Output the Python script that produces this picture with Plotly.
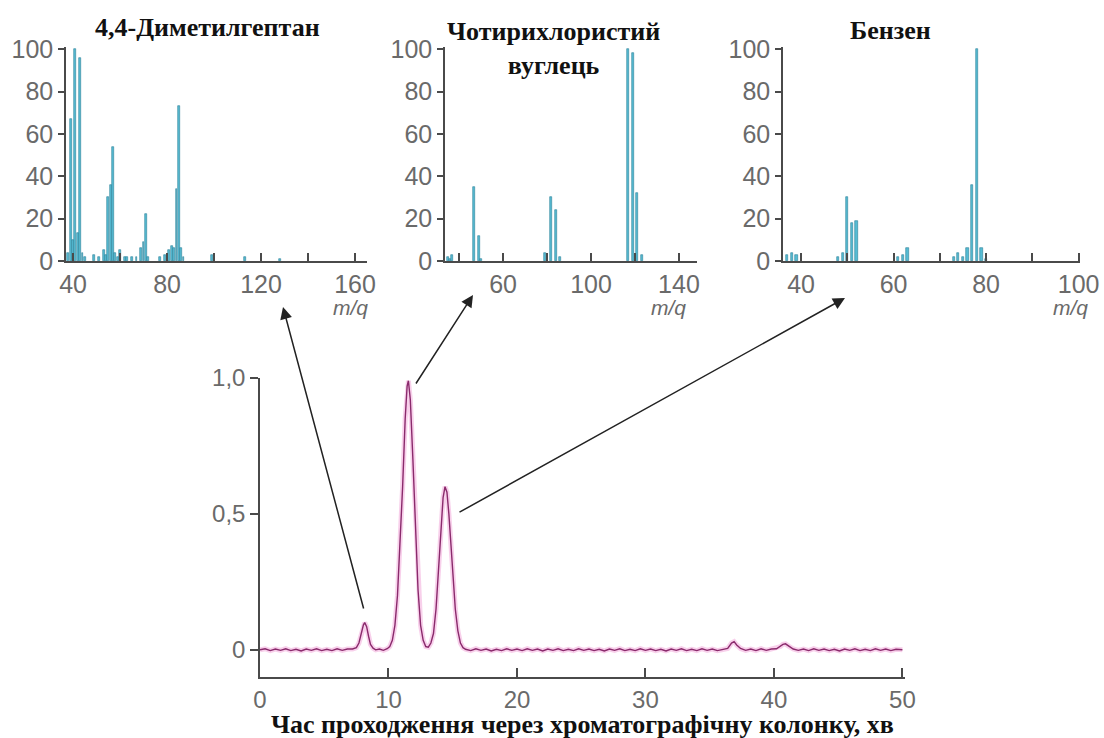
import plotly.graph_objects as go

# ---------------- data ----------------
# Mass spectrum: 4,4-dimethylheptane
mz_dmh = [38, 39, 40, 41, 42, 43, 44, 45, 49, 51, 53, 54, 55, 56, 57, 58, 59, 60, 62, 63, 65, 67,
          69, 70, 71, 72, 77, 79, 81, 82, 83, 84, 85, 86, 87, 99, 113, 128]
int_dmh = [4, 67, 10, 100, 13, 96, 4, 2, 3, 2, 5, 3, 30, 36, 54, 4, 2, 5, 2, 2, 2, 2,
           6, 9, 22, 2, 2, 3, 5, 7, 6, 34, 73, 6, 2, 3, 2, 1]

# Mass spectrum: carbon tetrachloride
mz_ccl4 = [35, 36, 37, 47, 49, 50, 79, 82, 84, 86, 117, 119, 121, 123]
int_ccl4 = [2, 1, 3, 35, 12, 1, 4, 30, 24, 2, 100, 98, 32, 3]

# Mass spectrum: benzene
mz_benz = [37, 38, 39, 48, 49, 50, 51, 52, 61, 62, 63, 73, 74, 75, 76, 77, 78, 79, 80]
int_benz = [3, 4, 3, 2, 4, 30, 18, 19, 2, 3, 6, 2, 4, 2, 6, 36, 100, 6, 1]

# Chromatogram (time, min ; signal)
chrom_time = [0, 0.4, 0.8, 1.2, 1.6, 2.0, 2.4, 2.8, 3.2, 3.6, 4.0, 4.4, 4.8, 5.2, 5.6, 6.0, 6.4, 6.8,
              7.2, 7.5, 7.7, 7.9, 8.05, 8.15, 8.3, 8.45, 8.6, 8.8, 9.0, 9.3, 9.6, 9.9,
              10.1, 10.3, 10.5, 10.7, 10.9, 11.1, 11.3, 11.45, 11.55, 11.7, 11.9, 12.1, 12.3, 12.5,
              12.7, 12.9, 13.1, 13.3, 13.5, 13.7, 13.9, 14.1, 14.25, 14.4, 14.55, 14.7, 14.85, 15.0,
              15.2, 15.4, 15.6, 15.8, 16.0, 16.4, 16.8, 17.2, 17.6, 18.0, 18.4, 18.8, 19.2, 19.6,
              20.0, 20.4, 20.8, 21.2, 21.6, 22.0, 22.4, 22.8, 23.2, 23.6, 24.0, 24.4, 24.8, 25.2,
              25.6, 26.0, 26.4, 26.8, 27.2, 27.6, 28.0, 28.4, 28.8, 29.2, 29.6, 30.0, 30.4, 30.8,
              31.2, 31.6, 32.0, 32.4, 32.8, 33.2, 33.6, 34.0, 34.4, 34.8, 35.2, 35.6, 36.0, 36.4,
              36.7, 36.9, 37.1, 37.4, 37.8, 38.2, 38.6, 39.0, 39.4, 39.8, 40.2, 40.5, 40.7, 40.9,
              41.2, 41.5, 41.9, 42.3, 42.7, 43.1, 43.5, 43.9, 44.3, 44.7, 45.1, 45.5, 45.9, 46.3,
              46.7, 47.1, 47.5, 47.9, 48.3, 48.7, 49.1, 49.5, 50.0]
chrom_signal = [0.0, 0.004, -0.003, 0.003, -0.002, 0.004, -0.003, 0.002, -0.004, 0.003, -0.002, 0.004,
                -0.003, 0.002, -0.003, 0.004, -0.002, 0.003,
                0.003, 0.008, 0.025, 0.065, 0.092, 0.1, 0.085, 0.05, 0.02, 0.006, 0.0, 0.003, -0.002, 0.004,
                0.012, 0.035, 0.09, 0.2, 0.38, 0.6, 0.85, 0.97, 0.99, 0.92, 0.7, 0.44, 0.22, 0.09,
                0.035, 0.012, 0.01, 0.025, 0.06, 0.15, 0.3, 0.46, 0.56, 0.6, 0.58, 0.5, 0.39, 0.28,
                0.15, 0.07, 0.025, 0.008, 0.002, -0.003, 0.004, -0.002, 0.003, -0.004, 0.002, -0.003, 0.004, -0.002,
                0.003, -0.003, 0.004, -0.002, 0.003, -0.004, 0.003, -0.002, 0.004, -0.003, 0.002, -0.003, 0.004, -0.002,
                0.003, -0.003, 0.002, -0.004, 0.003, -0.002, 0.004, -0.003, 0.002, -0.003, 0.004, -0.002, 0.003, -0.003,
                0.002, -0.004, 0.003, -0.002, 0.004, -0.003, 0.002, -0.003, 0.004, -0.002, 0.003, -0.003, 0.002, 0.005,
                0.025, 0.03, 0.018, 0.005, -0.002, 0.003, -0.003, 0.004, -0.002, 0.003, 0.004, 0.012, 0.02, 0.022,
                0.012, 0.003, -0.002, 0.003, -0.003, 0.004, -0.002, 0.003, -0.003, 0.002, -0.004, 0.003, -0.002, 0.004,
                -0.003, 0.002, -0.003, 0.004, -0.002, 0.003, -0.003, 0.002, 0.0]

chrom_ytickvals = [0, 0.5, 1.0]
chrom_yticktext = ["0", "0,5", "1,0"]
titles = ["4,4-Диметилгептан", "Чотирихлористий<br>вуглець", "Бензен"]
x_title = "Час проходження через хроматографічну колонку, хв"
mq_label = "m/q"

# ---------------- figure ----------------
W, H = 1104, 738
BAR_FILL = "#56bcd4"
BAR_EDGE = "#2d8199"
AX_COL = "#4a4a4a"
TICK_FONT = dict(family="Liberation Sans, Arial, sans-serif", size=25, color="#6a6a6a")
CHROM_TICK_FONT = dict(family="Liberation Sans, Arial, sans-serif", size=24, color="#6a6a6a")

fig = go.Figure()

spectra = [(mz_dmh, int_dmh, 0.8), (mz_ccl4, int_ccl4, 0.9), (mz_benz, int_benz, 0.5)]
for i, (mz, inten, bw) in enumerate(spectra):
    fig.add_trace(go.Bar(
        x=mz, y=inten, width=bw,
        marker=dict(color=BAR_FILL, line=dict(color=BAR_EDGE, width=0.6)),
        xaxis=f"x{i + 1 if i else ''}", yaxis=f"y{i + 1 if i else ''}",
        showlegend=False, hoverinfo="x+y"))

# chromatogram: soft pink halo + dark magenta line
fig.add_trace(go.Scatter(x=chrom_time, y=chrom_signal, mode="lines",
                         line=dict(color="rgba(240,150,210,0.45)", width=5),
                         xaxis="x4", yaxis="y4", showlegend=False, hoverinfo="skip"))
fig.add_trace(go.Scatter(x=chrom_time, y=chrom_signal, mode="lines",
                         line=dict(color="#8a2a6c", width=1.4),
                         xaxis="x4", yaxis="y4", showlegend=False))

def px_x(px):
    return px / W

def px_y(py):
    return 1 - py / H

def xax(domain, rng, dtick, tick0, minor_dtick, anchor):
    return dict(domain=domain, range=rng, anchor=anchor, showline=True, linecolor=AX_COL, linewidth=1.5,
                showgrid=False, zeroline=False, ticks="inside", ticklen=8, tickwidth=1.5, tickcolor=AX_COL,
                tick0=tick0, dtick=dtick, tickfont=TICK_FONT, fixedrange=True, automargin=False,
                minor=dict(ticks="inside", ticklen=8, tickwidth=1.5, tickcolor=AX_COL, dtick=minor_dtick, tick0=tick0))

def yax(domain, anchor):
    return dict(domain=domain, range=[0, 101], anchor=anchor, showline=True, linecolor=AX_COL, linewidth=1.5,
                showgrid=False, zeroline=False, ticks="outside", ticklen=6, tickwidth=1.5, tickcolor=AX_COL,
                tick0=0, dtick=20, tickfont=TICK_FONT, fixedrange=True, automargin=False)

ydom = [px_y(261), px_y(47)]
layout = dict(
    width=W, height=H, margin=dict(l=0, r=0, t=0, b=0, autoexpand=False),
    paper_bgcolor="white", plot_bgcolor="white", bargap=0,
    xaxis=xax([px_x(66), px_x(367)], [37, 165.1], 40, 40, 20, "y"),
    yaxis=yax(ydom, "x"),
    xaxis2=xax([px_x(445), px_x(697)], [33.6, 148.2], 40, 60, 20, "y2"),
    yaxis2=yax(ydom, "x2"),
    xaxis3=xax([px_x(783), px_x(1080)], [36.1, 100.3], 20, 40, 10, "y3"),
    yaxis3=yax(ydom, "x3"),
    xaxis4=dict(domain=[px_x(260), px_x(905)], range=[0, 50.2], anchor="y4", showline=True, linecolor=AX_COL,
                linewidth=1.5, showgrid=False, zeroline=False, ticks="inside", ticklen=9, tickwidth=1.5,
                tickcolor=AX_COL, dtick=10, tick0=0, tickfont=CHROM_TICK_FONT, fixedrange=True, automargin=False),
    yaxis4=dict(domain=[px_y(677), px_y(378)], range=[-0.1, 1.0], anchor="x4", showline=True, linecolor=AX_COL,
                linewidth=1.5, showgrid=False, zeroline=False, ticks="outside", ticklen=8, tickwidth=1.5,
                tickcolor=AX_COL, tickvals=chrom_ytickvals, ticktext=chrom_yticktext, tickfont=CHROM_TICK_FONT,
                fixedrange=True, automargin=False),
)
fig.update_layout(**layout)

TITLE_FONT = dict(family="Liberation Serif, Times New Roman, serif", size=26, color="#111")
annotations = [
    dict(text=f"<b>{titles[0]}</b>", x=px_x(207), y=px_y(28)),
    dict(text=f"<b>{titles[1]}</b>", x=px_x(553), y=px_y(49)),
    dict(text=f"<b>{titles[2]}</b>", x=px_x(890), y=px_y(31)),
    dict(text=f"<b>{x_title}</b>", x=px_x(582), y=px_y(724)),
]
for a in annotations:
    fig.add_annotation(xref="paper", yref="paper", showarrow=False, font=TITLE_FONT,
                       xanchor="center", yanchor="middle", **a)

for cx in (350, 668, 1070):
    fig.add_annotation(xref="paper", yref="paper", x=px_x(cx), y=px_y(307), showarrow=False,
                       text=f"<i>{mq_label}</i>", xanchor="center", yanchor="middle",
                       font=dict(family="Liberation Sans, Arial, sans-serif", size=21, color="#6a6a6a"))

# arrows from chromatogram peaks to spectra (head px, tail px)
arrows = [((283, 307), (364, 610)), ((473, 295), (415, 385)), ((845, 298), (458, 513))]
for (hx, hy), (tx, ty) in arrows:
    fig.add_annotation(xref="paper", yref="paper", x=px_x(hx), y=px_y(hy), axref="pixel", ayref="pixel",
                       ax=tx - hx, ay=ty - hy, text="", showarrow=True, arrowhead=2, arrowsize=1.6,
                       arrowwidth=1.5, arrowcolor="#222")

# remove the browser's default 8px page margin so figure pixels match the window
fig.write_html("out.html", config={"displayModeBar": False},
               post_script="document.body.style.margin='0px';")
